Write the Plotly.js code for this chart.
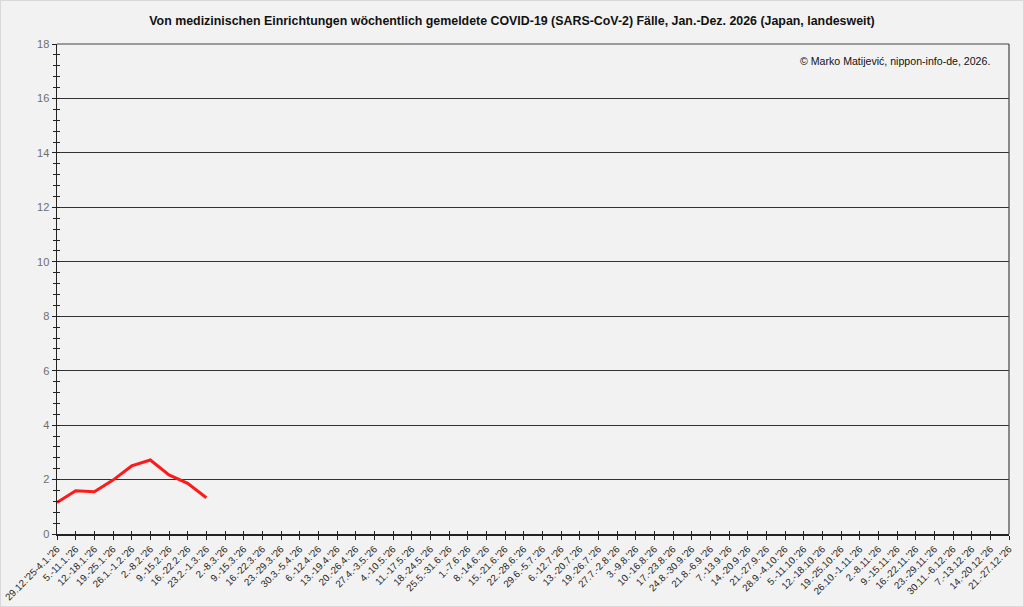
<!DOCTYPE html>
<html>
<head>
<meta charset="utf-8">
<script src="https://cdn.plot.ly/plotly-3.0.1.min.js"></script>
<style>
  html, body { margin: 0; padding: 0; background: #f2f2f2; }
  #chart { width: 1022px; height: 605px; border: 1px solid #d9d9d9; }
</style>
</head>
<body>
<div id="chart"></div>
<script>
// weeks of 2026 (labels as printed in the original)
var weeks = ["29.12.'25-4.1.'26", "5.-11.1.'26", "12.-18.1.'26", "19.-25.1.'26", "26.1.-1.2.'26",
  "2.-8.2.'26", "9.-15.2.'26", "16.-22.2.'26", "23.2.-1.3.'26", "2.-8.3.'26", "9.-15.3.'26",
  "16.-22.3.'26", "23.-29.3.'26", "30.3.-5.4.'26", "6.-12.4.'26", "13.-19.4.'26", "20.-26.4.'26",
  "27.4.-3.5.'26", "4.-10.5.'26", "11.-17.5.'26", "18.-24.5.'26", "25.5.-31.6.'26", "1.-7.6.'26",
  "8.-14.6.'26", "15.-21.6.'26", "22.-28.6.'26", "29.6.-5.7.'26", "6.-12.7.'26", "13.-20.7.'26",
  "19.-26.7.'26", "27.7.-2.8.'26", "3.-9.8.'26", "10.-16.8.'26", "17.-23.8.'26", "24.8.-30.9.'26",
  "21.8.-6.9.'26", "7.-13.9.'26", "14.-20.9.'26", "21.-27.9.'26", "28.9.-4.10.'26", "5.-11.10.'26",
  "12.-18.10.'26", "19.-25.10.'26", "26.10.-1.11.'26", "2.-8.11.'26", "9.-15.11.'26", "16.-22.11.'26",
  "23.-29.11.'26", "30.11.-6.12.'26", "7.-13.12.'26", "14.-20.12.'26", "21.-27.12.'26"];

// cases per medical institution, reported so far
var cases = [1.16, 1.59, 1.55, 1.98, 2.50, 2.72, 2.17, 1.86, 1.33];

var yMax = 18;

var covid = {
  x: weeks.slice(0, cases.length),
  y: cases,
  type: 'scatter',
  mode: 'lines',
  line: {color: '#ff1a1a', width: 3},
  hoverinfo: 'x+y'
};

// empty helper trace so the overlaid axes (inner half of the ticks) get drawn
var tickHelper = {x: [], y: [], type: 'scatter', xaxis: 'x2', yaxis: 'y2', hoverinfo: 'skip'};

var data = [covid, tickHelper];

var layout = {
  width: 1022,
  height: 605,
  paper_bgcolor: '#f2f2f2',
  plot_bgcolor: '#f2f2f2',
  margin: {l: 56, r: 14, t: 43, b: 72},
  showlegend: false,
  font: {family: 'Liberation Sans, Arial, sans-serif', color: '#222'},
  title: {
    text: 'Von medizinischen Einrichtungen wöchentlich gemeldete COVID-19 (SARS-CoV-2) Fälle, Jan.-Dez. 2026 (Japan, landesweit)',
    font: {size: 12.4, color: '#111', weight: 'bold'},
    x: 0.5, xanchor: 'center', y: 0.968, yanchor: 'middle'
  },
  xaxis: {
    type: 'category',
    categoryorder: 'array',
    categoryarray: weeks,
    range: [0, weeks.length - 1],
    tickangle: -45,
    tickfont: {size: 9.8, color: '#222'},
    ticks: 'outside', ticklen: 4, tickcolor: '#222', tickwidth: 1,
    showline: true, linecolor: '#222', linewidth: 1.5,
    mirror: false, showgrid: false, zeroline: false,
    fixedrange: true
  },
  xaxis2: {
    overlaying: 'x', anchor: 'y2', side: 'bottom',
    range: [0, weeks.length - 1], dtick: 1,
    ticks: 'inside', ticklen: 3, tickcolor: '#222', tickwidth: 1,
    showticklabels: false, showline: false, showgrid: false, zeroline: false,
    fixedrange: true
  },
  yaxis: {
    range: [0, yMax],
    dtick: 2,
    tickfont: {size: 11, color: '#6e6e6e'},
    ticks: 'outside', ticklen: 4, tickcolor: '#222', tickwidth: 1,
    minor: {dtick: 0.4, ticks: 'outside', ticklen: 3, tickcolor: '#222', showgrid: false},
    showline: true, linecolor: '#222', linewidth: 1.5,
    showgrid: true, gridcolor: '#333', gridwidth: 1,
    zeroline: false, fixedrange: true
  },
  yaxis2: {
    overlaying: 'y', anchor: 'x2', side: 'left',
    range: [0, yMax], dtick: 2,
    ticks: 'inside', ticklen: 3, tickcolor: '#222', tickwidth: 1,
    minor: {dtick: 0.4, ticks: 'inside', ticklen: 3, tickcolor: '#222', showgrid: false},
    showticklabels: false, showline: false, showgrid: false, zeroline: false,
    fixedrange: true
  },
  shapes: [
    // top and right frame of the plot area
    {type: 'line', xref: 'paper', yref: 'paper', x0: 0, x1: 1, y0: 1, y1: 1, line: {color: '#444', width: 1}},
    {type: 'line', xref: 'paper', yref: 'paper', x0: 1, x1: 1, y0: 0, y1: 1, line: {color: '#444', width: 1.2}}
  ],
  annotations: [{
    text: '© Marko Matijević, nippon-info-de, 2026.',
    xref: 'paper', yref: 'paper', x: 0.982, y: 0.965,
    xanchor: 'right', yanchor: 'middle', showarrow: false,
    font: {size: 10.6, color: '#111'}
  }]
};

Plotly.newPlot('chart', data, layout, {displayModeBar: false, staticPlot: true});
</script>
</body>
</html>
